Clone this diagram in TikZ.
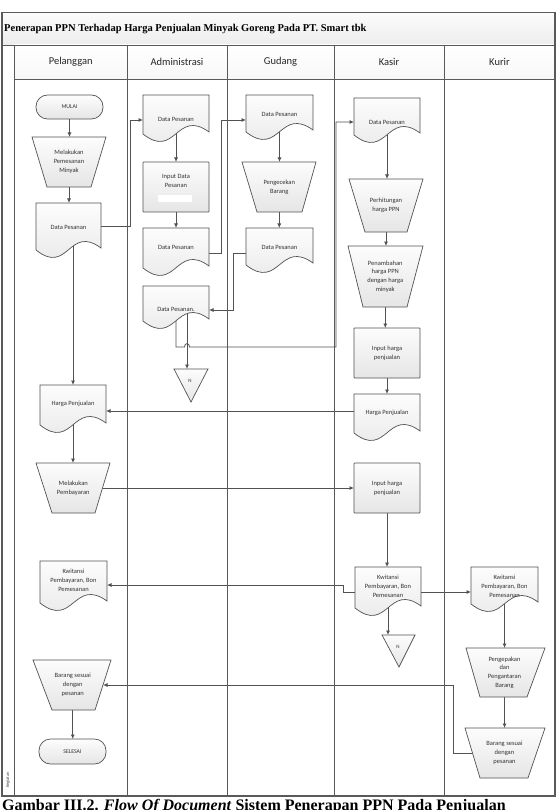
\documentclass[tikz,border=0pt]{standalone}
\usepackage{fontspec}
\setmainfont{Liberation Serif}
\newfontfamily\carl{Carlito}
\usetikzlibrary{arrows.meta,calc}
\pgfdeclarelayer{bg}
\pgfsetlayers{bg,main}
\definecolor{linec}{gray}{0.32}
\definecolor{framec}{gray}{0.35}
\definecolor{txtc}{gray}{0.2}
\tikzset{
 shp/.style={draw=linec, line width=0.7pt, top color=gray!2, bottom color=gray!20},
 box/.style={draw=none, inner sep=0pt, outer sep=0pt, align=center, text=txtc, font={\carl\fontsize{6.5}{8.8}\selectfont}},
 lbl/.style={inner sep=0pt, align=center, text=txtc, font={\carl\fontsize{6.5}{8.8}\selectfont}},
 conn/.style={draw=linec, line width=0.8pt},
 arr/.style={conn, -{Latex[length=4.5pt,width=4pt]}},
 hdr/.style={font={\carl\fontsize{10.5}{12}\selectfont}, text=black!85, inner sep=0pt},
 lane/.style={draw=framec, line width=0.9pt},
}
% document shape: name, xl, xr, ytop, ybottom(left), ytext, text
\newcommand\docsh[7]{%
 \path[shp] (#2,#4) -- (#3,#4) -- (#3,{#5-2}) .. controls ({(#2+#3)/2},{#5-26}) and ({(#2+#3)/2},{#5+26}) .. (#2,#5) -- cycle;
 \node[box, minimum width={(#3-#2)*1pt}, minimum height={(#5-#4)*1pt}] (#1) at ({(#2+#3)/2},{(#4+#5)/2}) {};
 \node[lbl] (#1t) at ({(#2+#3)/2},#6) {#7};}
% trapezoid: name, top xl, top xr, bottom xl, bottom xr, ytop, ybottom, text
\newcommand\trapsh[8]{%
 \path[shp] (#2,#6) -- (#3,#6) -- (#5,#7) -- (#4,#7) -- cycle;
 \node[box, minimum width={((#3+#5)/2-(#2+#4)/2)*1pt}, minimum height={(#7-#6)*1pt}] (#1) at ({(#2+#3+#4+#5)/4},{(#6+#7)/2}) {#8};}
% rectangle: name, xl, xr, ytop, ybottom, text
\newcommand\rectsh[6]{%
 \path[shp, rounded corners=0.6pt] (#2,#4) rectangle (#3,#5);
 \node[box, minimum width={(#3-#2)*1pt}, minimum height={(#5-#4)*1pt}] (#1) at ({(#2+#3)/2},{(#4+#5)/2}) {#6};}
% terminal
\newcommand\termsh[6]{%
 \path[shp, rounded corners=11.5pt] (#2,#4) rectangle (#3,#5);
 \node[box, font={\carl\fontsize{5.8}{7}\selectfont}, minimum width={(#3-#2)*1pt}, minimum height={(#5-#4)*1pt}] (#1) at ({(#2+#3)/2},{(#4+#5)/2}) {#6};}
% off-page triangle: name, xl, xr, ytop, apex x, apex y
\newcommand\trish[6]{%
 \path[shp] (#2,#4) -- (#3,#4) -- (#5,#6) -- cycle;
 \node[box, minimum width={(#3-#2)*1pt}, minimum height={(#6-#4)*1pt}] (#1) at ({(#2+#3)/2},{(#4+#6)/2}) {};
 \node[lbl, font={\carl\fontsize{5}{6}\selectfont}] (#1t) at ({#5-1},{#4+12}) {N};}
\begin{document}
\begin{tikzpicture}[x=1pt,y=-1pt]
\useasboundingbox (0,0) rectangle (557,810);
\clip (0,0) rectangle (557,810);
% frame
\path[top color=gray!3, bottom color=gray!14] (2,12.5) rectangle (555,45);
\path[top color=white, bottom color=gray!6] (14,45) rectangle (555,79);
\draw[lane] (2,45) -- (555,45);
\draw[lane] (14,79) -- (555,79);
\foreach \xx in {14,127.5,227,334,444} \draw[lane] (\xx,45) -- (\xx,796);
\draw[draw=framec, line width=1.1pt] (2,12.5) rectangle (555,796);
\node[anchor=west, inner sep=0pt, font={\fontsize{10.5}{12}\selectfont\bfseries}] (title) at (4,29) {Penerapan PPN Terhadap Harga Penjualan Minyak Goreng Pada PT. Smart tbk};
\node[hdr] (h1) at (70.7,62) {Pelanggan};
\node[hdr] (h2) at (177,62) {Administrasi};
\node[hdr] (h3) at (280.5,62) {Gudang};
\node[hdr] (h4) at (389,62) {Kasir};
\node[hdr] (h5) at (499.5,62) {Kurir};
\node[rotate=90, inner sep=0pt, text=black!70, font={\carl\fontsize{4.5}{5}\selectfont}] (keg) at (8,780) {Kegiatan};
\node[anchor=base west, inner sep=0pt, font={\fontsize{16}{18}\selectfont\bfseries}] (cap) at (2,810.5) {Gambar III.2. \textit{Flow Of Document} Sistem Penerapan PPN Pada Penjualan};
% Pelanggan
\termsh{S0}{36}{103}{95}{119}{MULAI}
\trapsh{T1}{32}{106}{47}{91}{137}{187}{Melakukan\\Pemesanan\\Minyak}
\docsh{D1}{36}{101}{203}{250}{227}{Data Pesanan}
\docsh{D2}{40}{106}{385}{425}{404}{Harga Penjualan}
\trapsh{T2}{36}{110}{52}{95}{463}{513}{Melakukan\\Pembayaran}
\docsh{D3}{40}{107}{561}{603}{580}{Kwitansi\\Pembayaran, Bon\\Pemesanan}
\trapsh{T3}{33}{111}{52}{95}{660}{710}{Barang sesuai\\dengan\\pesanan}
\termsh{S1}{39}{106}{739}{764}{SELESAI}
% Administrasi
\docsh{A1}{143}{209}{95}{134}{119}{Data Pesanan}
\rectsh{A2}{143}{209}{162}{212}{}
\fill[white] (158,195) rectangle (192,202);
\node[lbl] (A2t) at (176,181) {Input Data\\Pesanan};
\docsh{A3}{143}{209}{228}{268}{247}{Data Pesanan}
\docsh{A4}{143}{209}{286}{321}{309}{Data Pesanan.}
\trish{N1}{174}{208}{369}{191}{402}
% Gudang
\docsh{G1}{246}{313}{95}{132}{114}{Data Pesanan}
\trapsh{G2}{242}{316}{257}{302}{162}{212}{Pengecekan\\Barang}
\docsh{G3}{246}{313}{228}{265}{247}{Data Pesanan}
% Kasir
\docsh{K1}{354}{420}{98}{135}{122}{Data Pesanan}
\trapsh{K2}{349}{423}{365}{407}{179}{232}{Perhitungan\\harga PPN}
\trapsh{K3}{348}{423}{363}{407}{246}{307}{Penambahan\\harga PPN\\dengan harga\\minyak}
\rectsh{K4}{354}{420}{328}{378}{Input harga\\penjualan}
\docsh{K5}{354}{420}{394}{433}{413}{Harga Penjualan}
\rectsh{K6}{354}{420}{463}{513}{Input harga\\penjualan}
\docsh{K7}{355}{421}{567}{608}{586}{Kwitansi\\Pembayaran, Bon\\Pemesanan}
\trish{N2}{382}{415}{635}{399}{667}
% Kurir
\docsh{R1}{471}{538}{567}{604}{586}{Kwitansi\\Pembayaran, Bon\\Pemesanan}
\trapsh{R2}{466}{545}{480}{527}{648}{697}{Pengepakan\\dan\\Pengantaran\\Barang}
\trapsh{R3}{465}{545}{480}{528}{728}{778}{Barang sesuai\\dengan\\pesanan}
% connectors
\begin{pgfonlayer}{bg}
\fill[white] (0,0) rectangle (557,810);
\draw[arr] (S0.south) -- (S0.south |- T1.north);
\draw[arr] (T1.south) -- (T1.south |- D1.north);
\draw[arr] (D2.north |- D1.center) -- (D2.north);
\draw[arr] (D2.center) -- (D2.center |- T2.north);
\draw[arr] (T3.south) -- (T3.south |- S1.north);
\draw[arr] (A1.center) -- (A2.north);
\draw[arr] (A2.south) -- (A3.north);
\draw[arr] (A4.center -| 187,0) -- (N1.north -| 187,0);
\draw[arr] (G1.center) -- (G1.center |- G2.north);
\draw[arr] (G2.south) -- (G2.south |- G3.north);
\draw[arr] (K1.center) -- (K1.center |- K2.north);
\draw[arr] (K2.south) -- (K2.south |- K3.north);
\draw[arr] (K3.south) -- (K3.south |- K4.north);
\draw[arr] (K4.south) -- (K4.south |- K5.north);
\draw[arr] (K6.south) -- (K6.south |- K7.north);
\draw[arr] (K7.center) -- (K7.center |- N2.north);
\draw[arr] (R1.center) -- (R1.center |- R2.north);
\draw[arr] (R2.south) -- (R2.south |- R3.north);
\coordinate (c1) at (130,120);
\draw[arr] (D1.east) -| (c1) -- (A1.west |- c1);
\coordinate (c2) at (221,120);
\draw[arr] (A3.east |- 0,253) -| (c2) -- (G1.west |- c2);
\coordinate (c3) at (233,253);
\draw[arr] (G3.west |- c3) -- (c3) |- (A4.east |- 0,310);
\coordinate (c4a) at (176,347);
\coordinate (c4b) at (336,122);
\draw[arr] (A4.center) -- (c4a) -- (184.5,347) .. controls (184.5,342.5) and (189.5,342.5) .. (189.5,347) -| (c4b) -- (K1.west |- c4b);
\draw[arr] (K5.west |- 0,411) -- (D2.east |- 0,411);
\draw[arr] (T2.east) -- (K6.west |- T2.east);
\coordinate (c7) at (343,592);
\draw[arr] (K7.west |- c7) -- (c7) |- (D3.east |- 0,585);
\draw[arr] (K7.east |- c7) -- (R1.west |- c7);
\coordinate (c9) at (453.6,753);
\draw[arr] (R3.west) -- (c9) |- (T3.east);
\end{pgfonlayer}
\end{tikzpicture}
\end{document}
